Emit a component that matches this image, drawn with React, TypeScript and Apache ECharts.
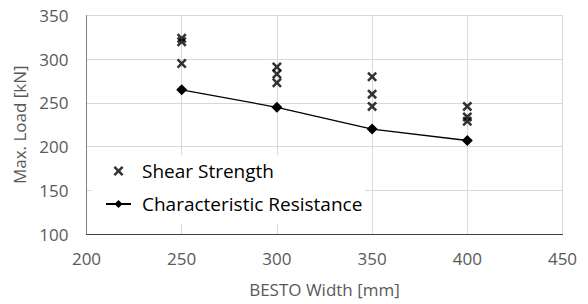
import React, { useEffect, useRef } from "react";
import * as echarts from "echarts";

const shearWidths = [250, 250, 250, 300, 300, 300, 350, 350, 350, 400, 400, 400];
const shearValues = [324, 320, 295, 291, 283, 273, 280, 260, 246, 246, 234, 229];
const charWidths = [250, 300, 350, 400];
const charValues = [265, 245, 220, 207];

const FONT = "Open Sans";
const CROSS = "path://M0,1.8L1.8,0L5,3.2L8.2,0L10,1.8L6.8,5L10,8.2L8.2,10L5,6.8L1.8,10L0,8.2L3.2,5Z";

export default function App() {
  const ref = useRef<HTMLDivElement>(null);
  useEffect(() => {
    if (!ref.current) return;
    const chart = echarts.init(ref.current, undefined, { renderer: "svg" });
    chart.setOption({
      animation: false,
      backgroundColor: "#fff",
      textStyle: { fontFamily: FONT },
      grid: { left: 86.5, right: 25.5, top: 15.5, bottom: 70, containLabel: false },
      xAxis: {
        type: "value",
        min: 200,
        max: 450,
        interval: 50,
        name: "BESTO Width [mm]",
        nameLocation: "middle",
        nameGap: 47,
        nameTextStyle: { color: "#595959", fontSize: 17, fontFamily: FONT },
        axisLine: { show: true, onZero: false, lineStyle: { color: "#404040", width: 1 } },
        axisTick: { show: false },
        axisLabel: { color: "#595959", fontSize: 17, margin: 16, fontFamily: FONT },
        splitLine: { show: true, lineStyle: { color: "#d9d9d9", width: 1 } },
      },
      yAxis: {
        type: "value",
        min: 100,
        max: 350,
        interval: 50,
        name: "Max. Load [kN]",
        nameLocation: "middle",
        nameGap: 53,
        nameTextStyle: { color: "#595959", fontSize: 17, fontFamily: FONT },
        axisLine: { show: true, onZero: false, lineStyle: { color: "#808080", width: 1 } },
        axisTick: { show: false },
        axisLabel: { color: "#595959", fontSize: 17, margin: 18, fontFamily: FONT },
        splitLine: { show: true, lineStyle: { color: "#d9d9d9", width: 1 } },
      },
      legend: {
        show: true,
        orient: "vertical",
        left: 92,
        top: 155,
        padding: [5, 3, 9, 13],
        itemGap: 11,
        itemWidth: 25,
        itemHeight: 10,
        backgroundColor: "#fff",
        textStyle: { color: "#000", fontSize: 19, fontFamily: FONT, lineHeight: 22, padding: [0, 0, 0, 6] },
        data: [
          { name: "Shear Strength", icon: CROSS },
          { name: "Characteristic Resistance" },
        ],
      },
      series: [
        {
          name: "Shear Strength",
          type: "scatter",
          symbol: CROSS,
          symbolSize: 10,
          itemStyle: { color: "#000" },
          data: shearWidths.map((w, i) => [w, shearValues[i]]),
          z: 3,
        },
        {
          name: "Characteristic Resistance",
          type: "line",
          symbol: "diamond",
          symbolSize: 11,
          itemStyle: { color: "#000" },
          lineStyle: { color: "#000", width: 1.3 },
          data: charWidths.map((w, i) => [w, charValues[i]]),
          z: 4,
        },
      ],
    });
    return () => chart.dispose();
  }, []);
  return <div ref={ref} style={{ width: 588, height: 304, position: "absolute", left: 0, top: 0 }} />;
}
